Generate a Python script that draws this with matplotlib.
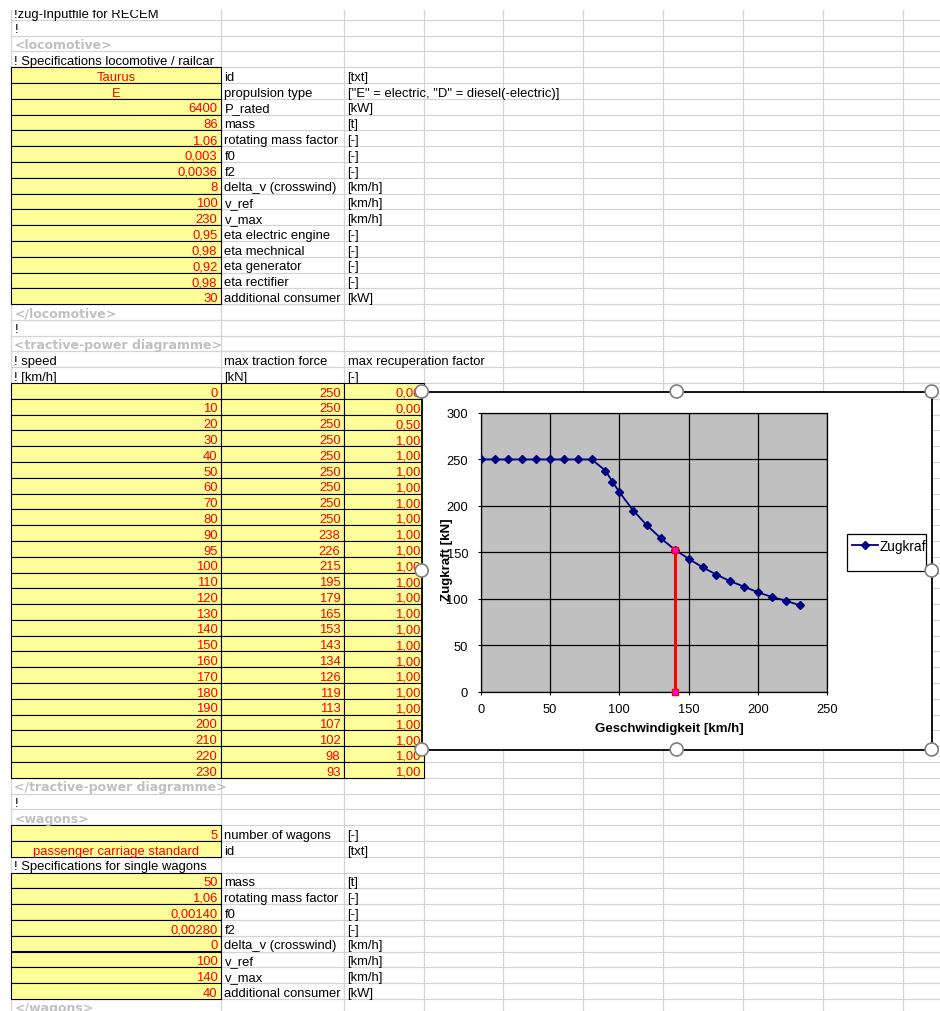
import matplotlib.pyplot as plt
from matplotlib.patches import Rectangle, Circle
import numpy as np

plt.rcParams['font.family'] = ['Liberation Sans', 'DejaVu Sans']

file_title = '!zug-Inputfile for RECEM'

loco_values = ['Taurus', 'E', '6400', '86', '1,06', '0,003', '0,0036', '8',
               '100', '230', '0,95', '0,98', '0,92', '0,98', '30']
loco_names = ['id', 'propulsion type', 'P_rated', 'mass', 'rotating mass factor', 'f0', 'f2',
              'delta_v (crosswind)', 'v_ref', 'v_max', 'eta electric engine', 'eta mechnical',
              'eta generator', 'eta rectifier', 'additional consumer']
loco_units = ['[txt]', '["E" = electric, "D" = diesel(-electric)]', '[kW]', '[t]', '[-]', '[-]', '[-]',
              '[km/h]', '[km/h]', '[km/h]', '[-]', '[-]', '[-]', '[-]', '[kW]']

# tractive-power diagramme
speed = [0, 10, 20, 30, 40, 50, 60, 70, 80, 90, 95, 100, 110, 120, 130,
         140, 150, 160, 170, 180, 190, 200, 210, 220, 230]
traction = [250, 250, 250, 250, 250, 250, 250, 250, 250, 238, 226, 215, 195, 179, 165,
            153, 143, 134, 126, 119, 113, 107, 102, 98, 93]
recuperation = [0.0, 0.0, 0.5, 1.0, 1.0, 1.0, 1.0, 1.0, 1.0, 1.0, 1.0, 1.0, 1.0, 1.0, 1.0,
                1.0, 1.0, 1.0, 1.0, 1.0, 1.0, 1.0, 1.0, 1.0, 1.0]

wagon_count = 5
wagon_id = 'passenger carriage standard'
wagon_values = ['50', '1,06', '0,00140', '0,00280', '0', '100', '140', '40']
wagon_names = ['mass', 'rotating mass factor', 'f0', 'f2', 'delta_v (crosswind)',
               'v_ref', 'v_max', 'additional consumer']
wagon_units = ['[t]', '[-]', '[-]', '[-]', '[km/h]', '[km/h]', '[km/h]', '[kW]']
wagon_v_max = 140

yellow = '#FFFF99'
grid_gray = '#D4D4D4'
tag_gray = '#C0C0C0'

W, H = 940, 1012
col_x = [11, 221, 344, 424, 503, 583, 663, 743, 823, 903, 983]
row_h = 15.79
row_top0 = 5.1


def row_top(i):
    return row_top0 + i * row_h


def is_number(s):
    try:
        float(s.replace(',', '.'))
        return True
    except ValueError:
        return False


def build_rows():
    rows = [('comment', file_title), ('comment', '!'), ('tag', '<locomotive>'),
            ('comment', '! Specifications locomotive / railcar')]
    for v, n, u in zip(loco_values, loco_names, loco_units):
        rows.append(('param', v, n, u))
    rows += [('tag', '</locomotive>'), ('comment', '!'), ('tag', '<tractive-power diagramme>'),
             ('header', '! speed', 'max traction force', 'max recuperation factor'),
             ('header', '! [km/h]', '[kN]', '[-]')]
    for s, f, r in zip(speed, traction, recuperation):
        rows.append(('table', str(s), str(f), f'{r:.2f}'.replace('.', ',')))
    rows += [('tag', '</tractive-power diagramme>'), ('comment', '!'), ('tag', '<wagons>'),
             ('param', str(wagon_count), 'number of wagons', '[-]'),
             ('param', wagon_id, 'id', '[txt]'),
             ('comment', '! Specifications for single wagons')]
    for v, n, u in zip(wagon_values, wagon_names, wagon_units):
        rows.append(('param', v, n, u))
    rows.append(('tag', '</wagons>'))
    return rows


def cell_text(ax, i, col, s, align='left', color='black', bold=False, clip=False):
    top = row_top(i)
    if align == 'right':
        x = col_x[col + 1] - 3.5
    elif align == 'center':
        x = (col_x[col] + col_x[col + 1]) / 2
    else:
        x = col_x[col] + 3.5
    if bold:
        t = ax.text(x, top + row_h - 3.2, s, ha=align, va='baseline', fontsize=9,
                    color=color, fontweight='bold', family=['DejaVu Sans'], zorder=4)
    else:
        t = ax.text(x, top + row_h - 3.2, s, ha=align, va='baseline', fontsize=9.4,
                    color=color, zorder=4)
    if clip:
        rect = Rectangle((col_x[col], top), col_x[col + 1] - col_x[col], row_h,
                         transform=ax.transData)
        t.set_clip_path(rect)


def yellow_cell(ax, i, col):
    ax.add_patch(Rectangle((col_x[col], row_top(i)), col_x[col + 1] - col_x[col], row_h,
                           facecolor=yellow, edgecolor='black', lw=0.8, zorder=3))


def draw_sheet(ax, rows):
    n = len(rows)
    for x in col_x:
        ax.plot([x, x], [10, row_top(n)], color=grid_gray, lw=0.9, zorder=1)
    for i in range(1, n + 1):
        ax.plot([col_x[0], W], [row_top(i), row_top(i)], color=grid_gray, lw=0.9, zorder=1)

    for i, row in enumerate(rows):
        kind = row[0]
        if kind == 'comment':
            cell_text(ax, i, 0, row[1])
        elif kind == 'tag':
            cell_text(ax, i, 0, row[1], color=tag_gray, bold=True)
        elif kind == 'header':
            for c in range(3):
                cell_text(ax, i, c, row[c + 1])
        elif kind == 'param':
            yellow_cell(ax, i, 0)
            align = 'right' if is_number(row[1]) else 'center'
            cell_text(ax, i, 0, row[1], align=align, color='red')
            cell_text(ax, i, 1, row[2], clip=True)
            cell_text(ax, i, 2, row[3])
        elif kind == 'table':
            for c in range(3):
                yellow_cell(ax, i, c)
                cell_text(ax, i, c, row[c + 1], align='right', color='red')

    # top of the window cuts the first row
    ax.add_patch(Rectangle((0, 0), W, 10.5, facecolor='white', edgecolor='none', zorder=5))


rows = build_rows()

fig = plt.figure(figsize=(9.4, 10.12), dpi=100)
ax_sheet = fig.add_axes([0, 0, 1, 1], zorder=0)
ax_sheet.set_xlim(0, W)
ax_sheet.set_ylim(H, 0)
ax_sheet.axis('off')
draw_sheet(ax_sheet, rows)

# chart object
frame = (421.7, 392.5, 931.7, 750.5)
ax_sheet.add_patch(Rectangle((frame[0], frame[1]), frame[2] - frame[0], frame[3] - frame[1],
                             facecolor='white', edgecolor='black', lw=1.3, zorder=6))

ax = fig.add_axes([480.7 / W, 1 - 692.7 / H, 346.6 / W, 278.7 / H], zorder=2)
ax.set_facecolor('#C0C0C0')
line, = ax.plot(speed, traction, color='#000080', lw=1.3, marker='D', markersize=3.8,
                markerfacecolor='#000080', markeredgecolor='#000080', label='Zugkraft', zorder=3)
v_line = [wagon_v_max, wagon_v_max]
f_line = [0, np.interp(wagon_v_max, speed, traction)]
ax.plot(v_line, f_line, color='#FF0000', lw=2.2, marker='s', markersize=4.5,
        markerfacecolor='#FF00FF', markeredgecolor='#FF0000', markeredgewidth=1, zorder=4,
        clip_on=False)
ax.set_xlim(0, 250)
ax.set_ylim(0, 300)
ax.set_xticks(np.arange(0, 251, 50))
ax.set_yticks(np.arange(0, 301, 50))
ax.grid(True, color='black', lw=0.9)
ax.set_axisbelow(True)
for s in ax.spines.values():
    s.set_color('black')
    s.set_linewidth(0.9)
ax.tick_params(direction='out', length=2.5, width=0.8, labelsize=9.3, pad=5.5)
ax.tick_params(axis='y', pad=6.5)
ax.set_xlabel('Geschwindigkeit [km/h]', fontsize=9.5, fontweight='bold')
ax.set_ylabel('Zugkraft [kN]', fontsize=9.5, fontweight='bold')
ax.xaxis.label.set_va('center')
ax.yaxis.label.set_va('center')
ax.xaxis.set_label_coords(0.543, -0.13)
ax.yaxis.set_label_coords(-0.098, 0.476)

# selection handles + legend on top
ax_top = fig.add_axes([0, 0, 1, 1], zorder=3)
ax_top.set_xlim(0, W)
ax_top.set_ylim(H, 0)
ax_top.axis('off')

leg_box = Rectangle((847.3, 535), 78.4, 37.3, facecolor='white', edgecolor='black', lw=0.9, zorder=4)
ax_top.add_patch(leg_box)
leg = ax_top.legend(handles=[line], labels=['Zugkraft'], loc='upper left',
                    bbox_to_anchor=(847.3 / W, 1 - 535 / H), bbox_transform=fig.transFigure,
                    frameon=False, borderaxespad=0, borderpad=0.35, handlelength=1.9,
                    handletextpad=0.15, fontsize=9.8)
leg.set_zorder(5)
for t in leg.get_texts():
    t.set_clip_on(True)
    t.set_clip_path(leg_box)

xm = (frame[0] + frame[2]) / 2
ym = (frame[1] + frame[3]) / 2
for hx, hy in [(frame[0], frame[1]), (xm, frame[1]), (frame[2], frame[1]),
               (frame[0], ym), (frame[2], ym),
               (frame[0], frame[3]), (xm, frame[3]), (frame[2], frame[3])]:
    ax_top.add_patch(Circle((hx, hy), 6.5, facecolor='white', edgecolor='#808080', lw=1.2, zorder=6))

fig.savefig('out.png', dpi=100)
